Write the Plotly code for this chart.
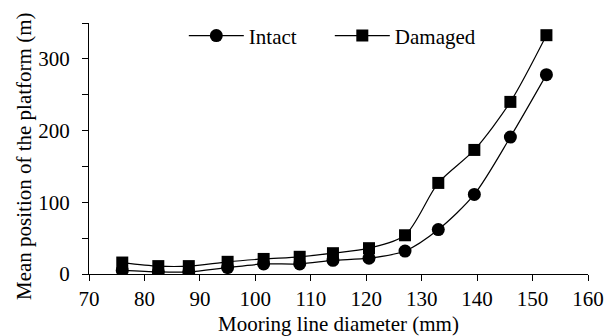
import plotly.graph_objects as go

diameter = [76, 82.5, 88, 95, 101.5, 108, 114, 120.5, 127, 133, 139.5, 146, 152.5]
intact = [5, 3, 3, 9, 14, 14, 19, 22, 32, 62, 111, 191, 278]
damaged = [16, 11, 11, 17, 21, 24, 29, 36, 54, 127, 173, 240, 333]

x_ticks = list(range(70, 161, 10))
y_ticks = [0, 50, 100, 150, 200, 250, 300, 350]
y_labels = ["0", "", "100", "", "200", "", "300", ""]

FONT = "Liberation Serif"
FS = 21

fig = go.Figure()
fig.add_trace(go.Scatter(
    x=diameter, y=intact, name="Intact", mode="lines+markers",
    line=dict(color="black", width=1.2, shape="spline", smoothing=0.8),
    marker=dict(symbol="circle", size=13, color="black"),
))
fig.add_trace(go.Scatter(
    x=diameter, y=damaged, name="Damaged", mode="lines+markers",
    line=dict(color="black", width=1.2, shape="spline", smoothing=0.8),
    marker=dict(symbol="square", size=12, color="black"),
))

# page body has an 8px margin; figure is shifted accordingly
fig.update_layout(
    width=604, height=328,
    margin=dict(l=81, r=24, t=15, b=62, autoexpand=False),
    paper_bgcolor="white", plot_bgcolor="white",
    font=dict(family=FONT, size=FS, color="black"),
    showlegend=True,
    legend=dict(orientation="h", x=0.19, xanchor="left", y=1.03, yanchor="top",
                bgcolor="rgba(0,0,0,0)", font=dict(family=FONT, size=FS), itemwidth=55,
                entrywidth=76, entrywidthmode="pixels", tracegroupgap=0),
    annotations=[dict(
        text="Mean position of the platform (m)", textangle=-90,
        xref="paper", yref="paper", x=0, y=0.47, xanchor="center", yanchor="middle",
        xshift=-65, showarrow=False, font=dict(family=FONT, size=FS, color="black"),
    )],
)
fig.update_xaxes(
    range=[70, 160], tickvals=x_ticks, ticktext=[str(v) for v in x_ticks],
    showline=True, linecolor="black", linewidth=1, ticks="outside", ticklen=6,
    tickcolor="black", showgrid=False, zeroline=False, automargin=False,
    title=dict(text="Mooring line diameter (mm)", standoff=8,
               font=dict(family=FONT, size=FS)),
    tickfont=dict(family=FONT, size=FS),
)
fig.update_yaxes(
    range=[0, 350], tickvals=y_ticks, ticktext=y_labels,
    showline=True, linecolor="black", linewidth=1, ticks="outside", ticklen=6,
    tickcolor="black", showgrid=False, zeroline=False, automargin=False,
    ticklabelstandoff=8,
    tickfont=dict(family=FONT, size=FS),
)

fig.write_html("out.html")
